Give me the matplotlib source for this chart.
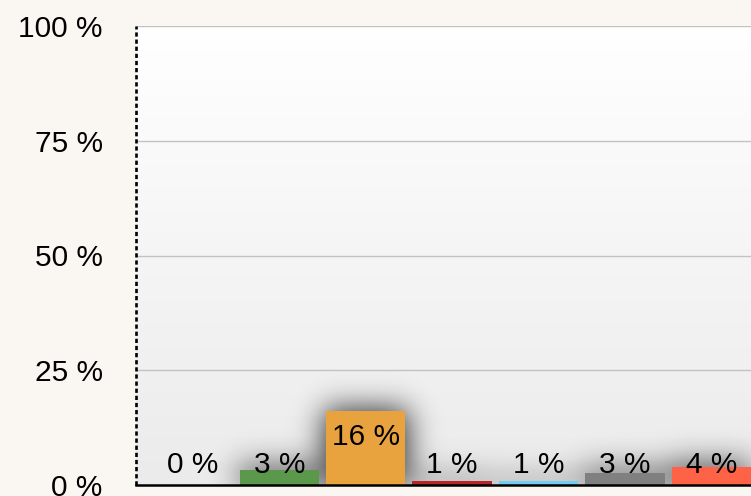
import numpy as np
import matplotlib
matplotlib.use("Agg")
import matplotlib.pyplot as plt

plt.rcParams['font.family'] = ['Liberation Sans', 'DejaVu Sans']

# ---- data ----
categories = ["A", "B", "C", "D", "E", "F", "G"]
values = [0.0, 3.3, 16.1, 0.9, 0.8, 2.7, 4.0]
colors = ["#000000", "#5b984b", "#e8a23e", "#b5282a", "#72cdf4", "#808080", "#ff6347"]
yticks = [0, 25, 50, 75, 100]
ytick_labels = ["0 %", "25 %", "50 %", "75 %", "100 %"]

W, H = 751, 496
fig = plt.figure(figsize=(W / 100, H / 100), dpi=100, facecolor="#faf7f2")
ax_w_px, ax_h_px = W - 136, 485 - 26
ax = fig.add_axes([136 / W, (H - 485) / H, ax_w_px / W, ax_h_px / H])

xlim = (-0.66, 6.46)
ylim = (0, 100)
ax.set_xlim(*xlim)
ax.set_ylim(*ylim)

# gradient background (white at top, light grey at bottom)
grad = np.linspace(0, 1, 256).reshape(-1, 1)
cmap = matplotlib.colors.LinearSegmentedColormap.from_list("bg", ["#ebebeb", "#ffffff"])
ax.imshow(grad, extent=[xlim[0], xlim[1], ylim[0], ylim[1]], aspect="auto",
          cmap=cmap, zorder=0, origin="lower", interpolation="bilinear")

# gridlines
for t in yticks[1:]:
    ax.axhline(t, color="#c2c2c2", lw=1.0, zorder=1)

x = np.arange(len(categories))
bw = 0.92

# blurred shadow under bars, computed from bar geometry
nx, ny = ax_w_px, ax_h_px
px_x = (xlim[1] - xlim[0]) / nx
px_y = (ylim[1] - ylim[0]) / ny
gx = np.linspace(xlim[0], xlim[1], nx)
gy = np.linspace(ylim[1], ylim[0], ny)
X, Y = np.meshgrid(gx, gy)
mask = np.zeros((ny, nx))
spread = 2
for xi, v in zip(x, values):
    if v > 0:
        mask[(np.abs(X - xi) <= bw / 2 + spread * px_x) & (Y <= v + spread * px_y)] = 1.0
sig = 15.0
k = np.arange(-50, 51)
kern = np.exp(-0.5 * (k / sig) ** 2)
kern /= kern.sum()
pad = 60
mp = np.pad(mask, pad, mode="constant")
mp = np.apply_along_axis(lambda r: np.convolve(r, kern, mode="same"), 1, mp)
mp = np.apply_along_axis(lambda c: np.convolve(c, kern, mode="same"), 0, mp)
blur = mp[pad:-pad, pad:-pad]
shadow = np.zeros((ny, nx, 4))
shadow[..., 3] = np.clip(blur * 0.8, 0, 1)
ax.imshow(shadow, extent=[xlim[0], xlim[1], ylim[0], ylim[1]], aspect="auto",
          zorder=2, origin="upper", interpolation="bilinear")

ax.bar(x, values, width=bw, color=colors, zorder=3, linewidth=0)

# labels
for xi, v in zip(x, values):
    ly = max(v - 7.4, 2.7)
    ax.text(xi, ly, f"{round(v):d} %", ha="center", va="baseline",
            fontsize=21.5, color="#000000", zorder=5)

# axes styling
ax.set_yticks(yticks)
ax.set_yticklabels(ytick_labels)
ax.set_xticks([])
ax.tick_params(axis="y", length=0, pad=24, labelsize=21.5, colors="#000000")
for s in ["top", "right", "left"]:
    ax.spines[s].set_visible(False)
ax.axvline(xlim[0], color="#000000", lw=1.9, dashes=(1.6, 1.1),
           dash_capstyle="butt", zorder=6, clip_on=False)
ax.spines["bottom"].set_linewidth(1.8)
ax.spines["bottom"].set_color("#000000")
ax.spines["bottom"].set_zorder(6)

fig.savefig("out.png", dpi=100, facecolor=fig.get_facecolor())
